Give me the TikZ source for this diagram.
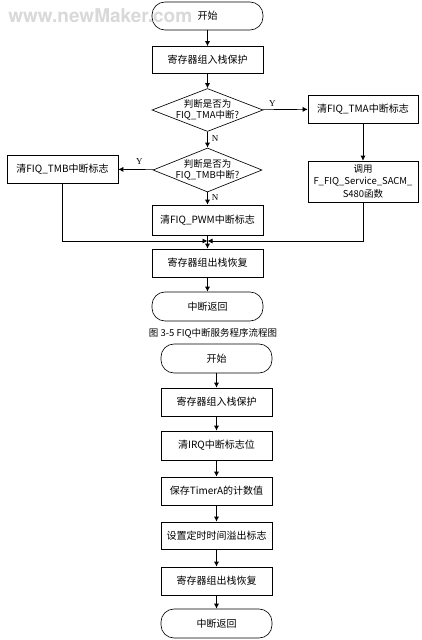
\documentclass[tikz,border=0pt]{standalone}
\usepackage{fontspec}
\setmainfont{Noto Sans CJK SC}
\newfontfamily\wmfont{TeX Gyre Heros}
\newfontfamily\lblfont{Liberation Serif}
\usetikzlibrary{arrows.meta,shapes.geometric}
\begin{document}
\begin{tikzpicture}[x=1pt,y=-1pt,
  every node/.style={font=\fontsize{10}{11}\selectfont, inner sep=0pt},
  box/.style={draw, minimum width=111pt, minimum height=28pt, align=center},
  term/.style={draw, rounded corners=13pt, minimum width=111pt, minimum height=28pt},
  arr/.style={-{Latex[length=5pt,width=5pt]}},
  lbl/.style={font=\lblfont\fontsize{9}{9}\selectfont},
  line width=0.65pt]
\useasboundingbox (0,0) rectangle (422,640);
\fill[white] (0,0) rectangle (422,640);
% watermark
\node[font=\wmfont\bfseries\fontsize{19}{19}\selectfont, text=gray!30, anchor=west] (wm) at (8,16) {www.newMaker.com};
% chart 1
\node[term] (t1) at (207.5,16) {开始};
\node[box, minimum height=27pt] (b1) at (207.5,60) {寄存器组入栈保护};
\node[draw, diamond, minimum width=111pt, minimum height=43pt, inner sep=0pt] (d1) at (207.5,110) {};
\node[align=center, font=\fontsize{9.5}{11}\selectfont] at (d1) {判断是否为\\FIQ\_TMA中断?};
\node[draw, diamond, minimum width=109pt, minimum height=44pt, inner sep=0pt] (d2) at (207.5,170) {};
\node[align=center, font=\fontsize{9.5}{11}\selectfont] at (d2) {判断是否为\\FIQ\_TMB中断?};
\node[box, minimum height=30pt] (pwm) at (207.5,220) {清FIQ\_PWM中断标志};
\node[box] (rec) at (207.5,263) {寄存器组出栈恢复};
\node[term, minimum height=29pt] (t2) at (207.5,306.5) {中断返回};
\node[box, minimum width=110pt] (tma) at (363,109) {清FIQ\_TMA中断标志};
\node[box, minimum width=110pt, minimum height=41pt, font=\fontsize{9.5}{12.5}\selectfont] (sacm) at (363,181.5) {调用\\F\_FIQ\_Service\_SACM\_\\S480函数};
\node[box] (tmb) at (62.5,169) {清FIQ\_TMB中断标志};
\node[font=\fontsize{9.5}{10}\selectfont] (cap) at (213,333) {图 3-5 FIQ中断服务程序流程图};
\coordinate (j) at (207.5,241);
\draw[arr] (t1) -- (b1);
\draw[arr] (b1) -- (d1);
\draw[arr] (d1) -- node[lbl, right=4pt, pos=0.4] {N} (d2);
\draw[arr] (d2) -- node[lbl, right=4pt, pos=0.4] {N} (pwm);
\draw[arr] (d1) -- node[lbl, above=3pt, pos=0.22] {Y} (tma);
\draw[arr] (d2) -- node[lbl, above=5pt, pos=0.4] {Y} (tmb);
\draw[arr] (tma) -- (sacm);
\draw[arr] (tmb.south) |- (j);
\draw[arr] (sacm.south) |- (j);
\draw[arr] (pwm) -- (rec);
\draw[arr] (rec) -- (t2);
% chart 2
\node[term, minimum height=29pt] (s1) at (216.5,358.5) {开始};
\node[box] (s2) at (216.5,402) {寄存器组入栈保护};
\node[box, minimum height=29pt] (s3) at (216.5,445.5) {清IRQ中断标志位};
\node[box] (s4) at (216.5,491) {保存TimerA的计数值};
\node[box, minimum height=27pt] (s5) at (216.5,535.5) {设置定时时间溢出标志};
\node[box] (s6) at (216.5,581) {寄存器组出栈恢复};
\node[term, minimum height=29pt] (s7) at (216.5,623.5) {中断返回};
\draw[arr] (s1) -- (s2);
\draw[arr] (s2) -- (s3);
\draw[arr] (s3) -- (s4);
\draw[arr] (s4) -- (s5);
\draw[arr] (s5) -- (s6);
\draw[arr] (s6) -- (s7);
\end{tikzpicture}
\end{document}
